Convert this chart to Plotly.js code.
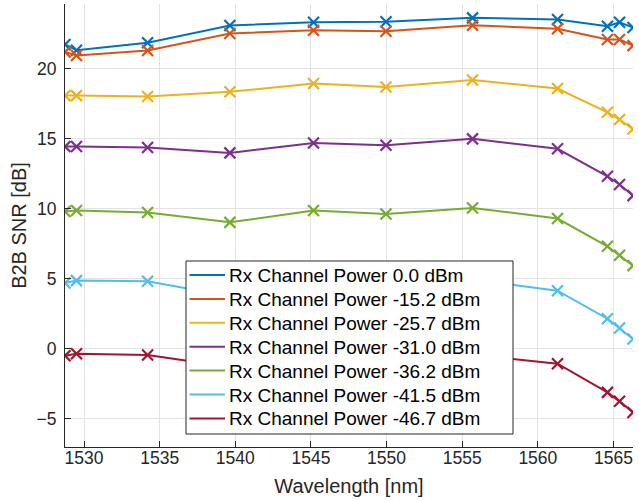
<!DOCTYPE html>
<html>
<head>
<meta charset="utf-8">
<script src="https://cdn.plot.ly/plotly-3.0.1.min.js"></script>
<style>html,body{margin:0;padding:0;background:#fff;}#chart{width:639px;height:500px;}</style>
</head>
<body>
<div id="chart"></div>
<script>
const wavelength = [1528.74, 1529.5, 1534.2, 1539.64, 1545.17, 1549.96, 1555.68, 1561.3, 1564.6, 1565.4, 1566.29];
const seriesNames = [
  "Rx Channel Power 0.0 dBm",
  "Rx Channel Power -15.2 dBm",
  "Rx Channel Power -25.7 dBm",
  "Rx Channel Power -31.0 dBm",
  "Rx Channel Power -36.2 dBm",
  "Rx Channel Power -41.5 dBm",
  "Rx Channel Power -46.7 dBm"
];
const snr0 = [21.74, 21.33, 21.86, 23.09, 23.33, 23.36, 23.64, 23.52, 23.04, 23.33, 22.95];
const snr15 = [21.21, 20.95, 21.31, 22.52, 22.76, 22.69, 23.11, 22.86, 22.09, 22.09, 21.66];
const snr25 = [18.09, 18.09, 18.02, 18.36, 18.95, 18.71, 19.21, 18.59, 16.9, 16.38, 15.7];
const snr31 = [14.45, 14.45, 14.38, 14.0, 14.71, 14.54, 15.0, 14.29, 12.33, 11.74, 10.95];
const snr36 = [9.81, 9.88, 9.74, 9.04, 9.88, 9.64, 10.07, 9.31, 7.33, 6.69, 5.95];
const snr41 = [4.71, 4.88, 4.83, 3.77, 4.6, 4.4, 4.95, 4.16, 2.16, 1.5, 0.71];
const snr46 = [-0.48, -0.34, -0.43, -1.28, -0.6, -0.8, -0.42, -1.05, -3.1, -3.74, -4.53];
const allSeries = [snr0, snr15, snr25, snr31, snr36, snr41, snr46];
const colors = ["#0072BD", "#D95319", "#EDB120", "#7E2F8E", "#77AC30", "#4DBEEE", "#A2142F"];
const xTicks = [1530, 1535, 1540, 1545, 1550, 1555, 1560, 1565];
const yTicks = [-5, 0, 5, 10, 15, 20];

const traces = allSeries.map((ys, i) => ({
  x: wavelength,
  y: ys,
  name: seriesNames[i],
  type: "scatter",
  mode: "lines+markers",
  showlegend: false,
  line: {color: colors[i], width: 2},
  marker: {symbol: "x-thin-open", size: 11, color: colors[i], line: {color: colors[i], width: 2.2}}
}));

// Plot area geometry (pixels) for placing the legend box in paper coordinates
const W = 639, H = 500;
const M = {l: 65, r: 6, t: 4, b: 53};
const pw = W - M.l - M.r, ph = H - M.t - M.b;
const px = v => (v - M.l) / pw;
const py = v => (H - M.b - v) / ph;

const legBox = {x0: 186, x1: 513, y0: 261, y1: 434};
const rowY0 = 275, rowStep = 23.9;
const shapes = [{
  type: "rect", xref: "paper", yref: "paper", layer: "above",
  x0: px(legBox.x0), x1: px(legBox.x1), y0: py(legBox.y1), y1: py(legBox.y0),
  fillcolor: "#ffffff", line: {color: "#262626", width: 1}
}];
const annotations = [];
seriesNames.forEach((name, i) => {
  const yy = rowY0 + i * rowStep;
  shapes.push({
    type: "line", xref: "paper", yref: "paper", layer: "above",
    x0: px(189.5), x1: px(225), y0: py(yy), y1: py(yy),
    line: {color: colors[i], width: 2}
  });
  annotations.push({
    xref: "paper", yref: "paper", x: px(227), y: py(yy + 0.5),
    xanchor: "left", yanchor: "middle", showarrow: false,
    text: name,
    font: {family: "Liberation Sans, Arial, sans-serif", size: 19, color: "#000000"}
  });
});

const axisCommon = {
  showgrid: true,
  gridcolor: "#e3e3e3",
  gridwidth: 1,
  zeroline: false,
  showline: true,
  linecolor: "#262626",
  linewidth: 1,
  ticks: "inside",
  ticklen: 6,
  tickcolor: "#262626",
  tickfont: {family: "Liberation Sans, Arial, sans-serif", size: 17.5, color: "#262626"}
};

const layout = {
  width: W,
  height: H,
  margin: M,
  paper_bgcolor: "#ffffff",
  plot_bgcolor: "#ffffff",
  font: {family: "Liberation Sans, Arial, sans-serif", color: "#262626"},
  xaxis: Object.assign({}, axisCommon, {
    range: [1528.74, 1566.29],
    tickvals: xTicks,
    ticklabelstandoff: -5,
    title: {text: "Wavelength [nm]", font: {size: 20, color: "#262626"}, standoff: 11}
  }),
  yaxis: Object.assign({}, axisCommon, {
    range: [-7, 24.63],
    tickvals: yTicks,
    ticklabelstandoff: 4,
    title: {text: "B2B SNR [dB]", font: {size: 20, color: "#262626"}, standoff: 4}
  }),
  showlegend: false,
  shapes: shapes,
  annotations: annotations
};

Plotly.newPlot("chart", traces, layout, {displayModeBar: false, staticPlot: true});
</script>
</body>
</html>
